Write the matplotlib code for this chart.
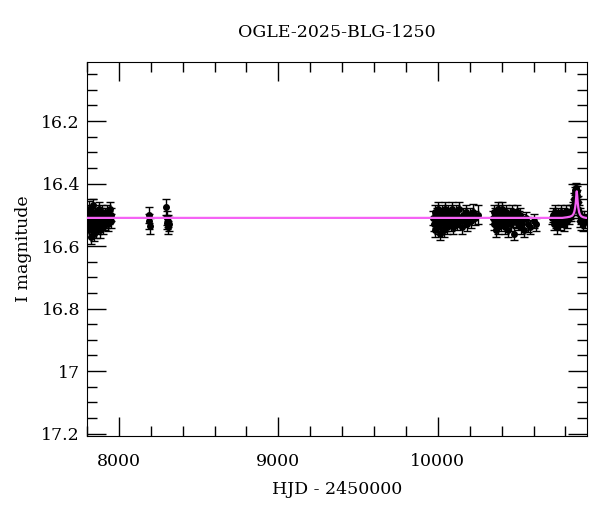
import matplotlib
matplotlib.use('Agg')
import matplotlib.pyplot as plt
from matplotlib.ticker import MultipleLocator, FuncFormatter

TITLE = "OGLE-2025-BLG-1250"

# season 1
t1 = [7806, 7809, 7812, 7815, 7818, 7821, 7824, 7827, 7830, 7833, 7836, 7839, 7842, 7845,
      7849, 7852, 7856, 7860, 7863, 7867, 7871, 7875, 7879, 7883, 7887, 7891, 7896, 7900,
      7905, 7910, 7915, 7920, 7925, 7930, 7936, 7942, 7948, 7952]
m1 = [16.50, 16.53, 16.48, 16.55, 16.51, 16.49, 16.57, 16.52, 16.50, 16.54, 16.47, 16.52,
      16.56, 16.51, 16.53, 16.49, 16.55, 16.52, 16.50, 16.54, 16.51, 16.48, 16.53, 16.55,
      16.50, 16.52, 16.49, 16.54, 16.51, 16.53, 16.50, 16.52, 16.49, 16.53, 16.51, 16.48,
      16.52, 16.50]
e1 = [0.022, 0.020, 0.024, 0.022, 0.019, 0.021, 0.025, 0.020, 0.022, 0.023, 0.020, 0.021,
      0.024, 0.020, 0.022, 0.021, 0.023, 0.020, 0.022, 0.021, 0.020, 0.022, 0.023, 0.024,
      0.021, 0.020, 0.022, 0.023, 0.021, 0.020, 0.022, 0.021, 0.020, 0.022, 0.021, 0.020,
      0.022, 0.021]

# season 2
t2 = [8188, 8190, 8192]
m2 = [16.50, 16.52, 16.535]
e2 = [0.026, 0.024, 0.026]

# season 3
t3 = [8296, 8300, 8303, 8306, 8310, 8313]
m3 = [16.475, 16.51, 16.525, 16.54, 16.52, 16.53]
e3 = [0.026, 0.022, 0.020, 0.021, 0.020, 0.022]

# season 4
t4 = [9972, 9976, 9981, 9985, 9990, 9994, 9999, 10004, 10008, 10013, 10018, 10022, 10027,
      10032, 10036, 10041, 10046, 10050, 10055, 10060, 10065, 10070, 10075, 10080, 10086,
      10092, 10098, 10104, 10110, 10116, 10122, 10128, 10135, 10142, 10150, 10158, 10166,
      10174, 10182, 10190, 10200, 10210, 10222, 10235, 10250]
m4 = [16.51, 16.53, 16.49, 16.55, 16.52, 16.50, 16.54, 16.48, 16.52, 16.56, 16.50, 16.53,
      16.49, 16.51, 16.55, 16.50, 16.48, 16.53, 16.51, 16.54, 16.49, 16.52, 16.50, 16.53,
      16.48, 16.52, 16.54, 16.50, 16.51, 16.49, 16.53, 16.51, 16.48, 16.52, 16.54, 16.50,
      16.52, 16.49, 16.53, 16.51, 16.50, 16.52, 16.49, 16.51, 16.50]
e4 = [0.022, 0.021, 0.020, 0.022, 0.023, 0.021, 0.020, 0.022, 0.021, 0.020, 0.022, 0.021,
      0.020, 0.022, 0.021, 0.020, 0.022, 0.021, 0.020, 0.022, 0.021, 0.020, 0.022, 0.021,
      0.020, 0.022, 0.021, 0.020, 0.022, 0.021, 0.020, 0.022, 0.021, 0.020, 0.022, 0.021,
      0.020, 0.022, 0.021, 0.020, 0.022, 0.021, 0.024, 0.022, 0.030]

# season 5
t5 = [10345, 10350, 10355, 10360, 10365, 10370, 10375, 10380, 10385, 10390, 10395, 10400,
      10405, 10410, 10415, 10420, 10425, 10430, 10435, 10440, 10446, 10452, 10458, 10464,
      10470, 10476, 10482, 10488, 10494, 10500, 10507, 10514, 10522, 10530, 10540, 10550,
      10565, 10580, 10600, 10615]
m5 = [16.51, 16.49, 16.53, 16.50, 16.55, 16.52, 16.48, 16.54, 16.49, 16.51, 16.53, 16.50,
      16.48, 16.52, 16.51, 16.54, 16.50, 16.49, 16.52, 16.55, 16.51, 16.50, 16.53, 16.49,
      16.51, 16.56, 16.50, 16.52, 16.49, 16.53, 16.51, 16.50, 16.54, 16.52, 16.55, 16.51,
      16.53, 16.54, 16.52, 16.53]
e5 = [0.021, 0.022, 0.020, 0.021, 0.022, 0.020, 0.021, 0.022, 0.020, 0.021, 0.022, 0.020,
      0.021, 0.022, 0.020, 0.021, 0.022, 0.020, 0.021, 0.022, 0.020, 0.021, 0.022, 0.020,
      0.021, 0.022, 0.020, 0.021, 0.022, 0.020, 0.021, 0.022, 0.020, 0.021, 0.022, 0.020,
      0.024, 0.023, 0.022, 0.021]

# season 6
t6 = [10716, 10722, 10728, 10734, 10740, 10746, 10752, 10758, 10764, 10770, 10776, 10782,
      10788, 10794, 10800, 10806, 10812, 10818, 10824, 10830, 10836, 10842, 10848, 10852,
      10856, 10860, 10863, 10866, 10869, 10872, 10875, 10878, 10881, 10885, 10889, 10894,
      10900, 10908, 10916, 10925]
m6 = [16.51, 16.50, 16.53, 16.49, 16.52, 16.54, 16.50, 16.51, 16.53, 16.49, 16.51, 16.52,
      16.50, 16.53, 16.51, 16.49, 16.52, 16.50, 16.51, 16.49, 16.50, 16.49, 16.48, 16.47,
      16.45, 16.43, 16.42, 16.415, 16.42, 16.425, 16.44, 16.46, 16.48, 16.49, 16.50, 16.52,
      16.51, 16.53, 16.51, 16.52]
e6 = [0.021, 0.022, 0.020, 0.021, 0.022, 0.020, 0.021, 0.022, 0.020, 0.021, 0.022, 0.020,
      0.021, 0.022, 0.020, 0.021, 0.022, 0.020, 0.021, 0.022, 0.020, 0.021, 0.020, 0.020,
      0.019, 0.019, 0.018, 0.018, 0.018, 0.018, 0.019, 0.019, 0.020, 0.020, 0.021, 0.020,
      0.021, 0.022, 0.021, 0.022]

# model light curve
model_t = [7790, 10780, 10810, 10830, 10842, 10850, 10856, 10861, 10865, 10868, 10871,
           10874, 10877, 10881, 10886, 10892, 10900, 10912, 10930, 10950]
model_m = [16.51, 16.51, 16.508, 16.506, 16.503, 16.498, 16.49, 16.477, 16.46, 16.44, 16.425,
           16.44, 16.46, 16.478, 16.492, 16.500, 16.505, 16.508, 16.51, 16.51]


def main():
    plt.rcParams['font.family'] = ['DejaVu Serif']
    fig = plt.figure(figsize=(6.0, 5.12), dpi=100)
    ax = fig.add_axes([0.145, 0.1484, 0.833, 0.7306])

    for t, m, e in [(t1, m1, e1), (t2, m2, e2), (t3, m3, e3), (t4, m4, e4), (t5, m5, e5), (t6, m6, e6)]:
        ax.errorbar(t, m, yerr=e, fmt='o', color='black', ms=4, elinewidth=1,
                    capsize=3, capthick=1)

    ax.plot(model_t, model_m, color='#f563f5', lw=1.6, zorder=5)

    ax.set_xlim(7800, 10934)
    ax.set_ylim(17.208, 16.011)
    ax.xaxis.set_major_locator(MultipleLocator(1000))
    ax.xaxis.set_minor_locator(MultipleLocator(200))
    ax.yaxis.set_major_locator(MultipleLocator(0.2))
    ax.yaxis.set_minor_locator(MultipleLocator(0.05))
    ax.yaxis.set_major_formatter(FuncFormatter(lambda v, p: f"{v:g}"))
    ax.tick_params(which='both', direction='in', top=True, right=True, labelsize=12.5)
    ax.tick_params(which='major', length=14, width=1)
    ax.tick_params(which='minor', length=7, width=1)
    ax.tick_params(axis='x', which='major', pad=12)
    ax.tick_params(axis='y', which='major', pad=5)

    ax.set_xlabel("HJD - 2450000", fontsize=12.5, labelpad=8)
    ax.set_ylabel("I magnitude", fontsize=12.5, labelpad=7)
    ax.set_title(TITLE, fontsize=12.5, pad=18)

    fig.savefig("out.png", dpi=100)


if __name__ == "__main__":
    main()
